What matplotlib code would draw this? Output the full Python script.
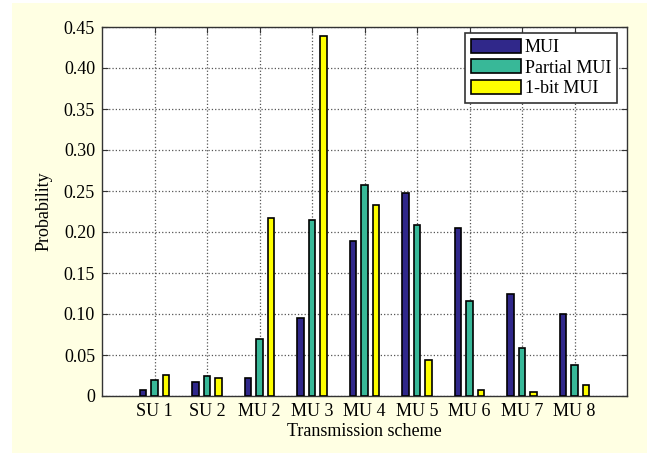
import numpy as np
import matplotlib.pyplot as plt
from matplotlib.patches import Rectangle

# Probability of each transmission scheme under three feedback types
schemes = ['SU 1', 'SU 2', 'MU 2', 'MU 3', 'MU 4', 'MU 5', 'MU 6', 'MU 7', 'MU 8']
mui = [0.007, 0.017, 0.022, 0.095, 0.189, 0.248, 0.205, 0.125, 0.100]
partial_mui = [0.020, 0.025, 0.070, 0.215, 0.257, 0.209, 0.116, 0.058, 0.038]
onebit_mui = [0.026, 0.022, 0.217, 0.439, 0.233, 0.044, 0.007, 0.005, 0.013]
yticks = [0, 0.05, 0.10, 0.15, 0.20, 0.25, 0.30, 0.35, 0.40, 0.45]

plt.rcParams['font.family'] = ['Liberation Serif', 'DejaVu Serif']
plt.rcParams['font.size'] = 13

fig = plt.figure(figsize=(6.51, 4.54), dpi=100)
fig.patch.set_facecolor('white')
fig.patches.append(Rectangle((12/651, 1/454), 635/651, 450/454, transform=fig.transFigure,
                             facecolor='#FFFFE3', edgecolor='none', zorder=-10))

ax = fig.add_axes([102/651, 1 - 396/454, 525/651, 369/454])

x = np.arange(1, len(schemes) + 1)
off = 0.22
w = 0.12
ax.bar(x - off, mui, w, color='#30288A', edgecolor='black', linewidth=1.2, label='MUI', zorder=3)
ax.bar(x, partial_mui, w, color='#38B898', edgecolor='black', linewidth=1.2, label='Partial MUI', zorder=3)
ax.bar(x + off, onebit_mui, w, color='#FFFF00', edgecolor='black', linewidth=1.2, label='1-bit MUI', zorder=3)

ax.set_xlim(0, 10)
ax.set_ylim(0, 0.45)
ax.set_xticks(x)
ax.set_xticklabels(schemes)
ax.set_yticks(yticks)
ax.set_yticklabels(['0'] + ['%.2f' % v for v in yticks[1:]])
ax.tick_params(direction='in', top=True, right=True, length=4, color='#333333', pad=5)
ax.grid(True, linestyle=':', color='#555555', linewidth=0.9, zorder=0)
for s in ax.spines.values():
    s.set_color('#333333')
    s.set_linewidth(1.0)

ax.set_xlabel('Transmission scheme', labelpad=2)
ax.set_ylabel('Probability', labelpad=8)

leg = ax.legend(loc='upper right', bbox_to_anchor=(0.98, 0.983), fancybox=False,
                framealpha=1, edgecolor='#333333', borderpad=0.3, labelspacing=0.2,
                handlelength=2.8, handleheight=0.8, handletextpad=0.2, borderaxespad=0)
leg.get_frame().set_linewidth(1.2)

fig.savefig('out.png', dpi=100)
